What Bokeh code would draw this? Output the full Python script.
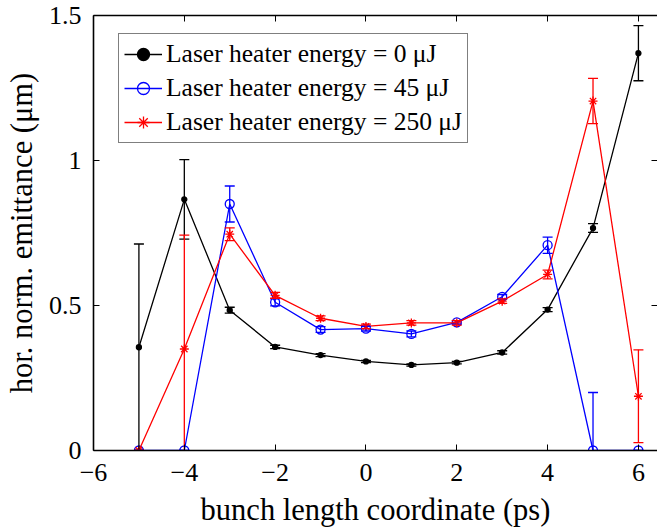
from bokeh.plotting import figure
from bokeh.models import (ColumnDataSource, Whisker, TeeHead, LinearAxis, FixedTicker,
                          Range1d, Legend, LegendItem)
from bokeh.embed import file_html
from bokeh.resources import INLINE

# ---- data ----
x_coord = [-5, -4, -3, -2, -1, 0, 1, 2, 3, 4, 5, 6]

emit_0uJ = [0.356, 0.866, 0.484, 0.357, 0.329, 0.307, 0.295, 0.303, 0.338, 0.486, 0.767, 1.370]
err_0uJ = [0.356, 0.137, 0.010, 0.006, 0.005, 0.004, 0.004, 0.004, 0.006, 0.007, 0.015, 0.095]

emit_45uJ = [0.0, 0.0, 0.850, 0.511, 0.417, 0.420, 0.402, 0.442, 0.530, 0.708, 0.0, 0.0]
err_45uJ = [0.0, 0.0, 0.062, 0.012, 0.010, 0.008, 0.010, 0.006, 0.008, 0.028, 0.200, 0.0]

emit_250uJ = [0.0, 0.350, 0.746, 0.535, 0.456, 0.428, 0.440, 0.440, 0.515, 0.607, 1.205, 0.187]
err_250uJ = [0.0, 0.393, 0.022, 0.010, 0.008, 0.008, 0.008, 0.008, 0.008, 0.015, 0.078, 0.160]

labels = ["Laser heater energy = 0 \u03bcJ",
          "Laser heater energy = 45 \u03bcJ",
          "Laser heater energy = 250 \u03bcJ"]

x_ticks = [-6, -4, -2, 0, 2, 4, 6]
x_tick_labels = ["\u22126", "\u22124", "\u22122", "0", "2", "4", "6"]
y_ticks = [0, 0.5, 1, 1.5]
y_tick_labels = ["0", "0.5", "1", "1.5"]

x_label = "bunch length coordinate (ps)"
y_label = "hor. norm. emittance (\u03bcm)"

FONT = "'Liberation Serif', 'Times New Roman', Times, serif"

p = figure(width=657, height=529, output_backend="svg", toolbar_location=None,
           x_range=Range1d(-6, 6.42), y_range=Range1d(0, 1.5),
           min_border_left=93, min_border_right=0, min_border_top=15, min_border_bottom=79,
           x_axis_location="below", y_axis_location="left")
p.outline_line_color = None
p.grid.visible = False
p.background_fill_color = "white"
p.border_fill_color = "white"

xo = {t: l for t, l in zip(x_ticks, x_tick_labels)}
yo = {t: l for t, l in zip(y_ticks, y_tick_labels)}

def style_axis(ax, ticks, overrides, show_labels=True, line=True):
    ax.ticker = FixedTicker(ticks=ticks)
    ax.major_label_overrides = overrides
    ax.major_tick_in = 6
    ax.major_tick_out = 0
    ax.minor_tick_in = 0
    ax.minor_tick_out = 0
    ax.major_tick_line_color = "black"
    ax.major_tick_line_width = 1
    ax.axis_line_color = "black" if line else None
    ax.axis_line_width = 1.6
    ax.major_label_text_font = FONT
    ax.major_label_text_color = "black"
    if show_labels:
        ax.major_label_text_font_size = "26px"
    else:
        ax.major_label_text_font_size = "0px"
        ax.major_label_standoff = 0

style_axis(p.xaxis[0], x_ticks, xo)
style_axis(p.yaxis[0], y_ticks, yo)
p.xaxis[0].major_label_standoff = 13
p.yaxis[0].major_label_standoff = 12
p.xaxis[0].axis_label = x_label
p.yaxis[0].axis_label = y_label
for ax in (p.xaxis[0], p.yaxis[0]):
    ax.axis_label_text_font = FONT
    ax.axis_label_text_font_size = "30.5px"
    ax.axis_label_text_font_style = "normal"
    ax.axis_label_text_color = "black"
p.xaxis[0].axis_label_standoff = 9
p.yaxis[0].axis_label_standoff = 7

top_ax = LinearAxis()
style_axis(top_ax, x_ticks, xo, show_labels=False, line=True)
p.add_layout(top_ax, "above")
right_ax = LinearAxis()
style_axis(right_ax, y_ticks, yo, show_labels=False, line=False)
p.add_layout(right_ax, "right")

series = [
    (emit_0uJ, err_0uJ, "black", "circle", 5, "black"),
    (emit_45uJ, err_45uJ, "blue", "circle", 9, None),
    (emit_250uJ, err_250uJ, "red", "asterisk", 9, None),
]

items = []
for (vals, errs, color, marker, size, fill), lab in zip(series, labels):
    src = ColumnDataSource(dict(
        x=x_coord, y=vals,
        upper=[v + e for v, e in zip(vals, errs)],
        lower=[v - e for v, e in zip(vals, errs)],
    ))
    w = Whisker(base="x", upper="upper", lower="lower", source=src,
                line_color=color, line_width=1.3, level="glyph",
                upper_head=TeeHead(size=10, line_color=color, line_width=1.3),
                lower_head=TeeHead(size=10, line_color=color, line_width=1.3))
    p.add_layout(w)
    r1 = p.line("x", "y", source=src, line_color=color, line_width=1.3)
    r2 = p.scatter("x", "y", source=src, marker=marker, size=size,
                   line_color=color, line_width=1.3,
                   fill_color=fill if fill else None)
    items.append(LegendItem(label=lab, renderers=[r1, r2]))

legend = Legend(items=items, location=(25, 307))
legend.label_text_font = FONT
legend.label_text_font_size = "25.5px"
legend.label_text_color = "black"
legend.border_line_color = "black"
legend.border_line_width = 1.6
legend.background_fill_alpha = 1
legend.glyph_width = 38
legend.glyph_height = 30
legend.label_height = 30
legend.label_standoff = 4
legend.spacing = 4
legend.padding = 5
legend.margin = 0
p.add_layout(legend, "center")

open("out.html", "w").write(file_html(p, INLINE))
